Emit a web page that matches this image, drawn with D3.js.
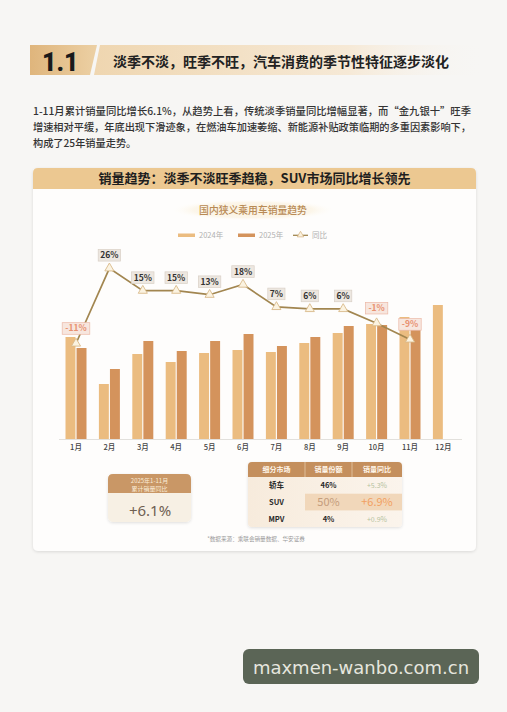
<!DOCTYPE html>
<html><head><meta charset="utf-8">
<script src="https://cdn.jsdelivr.net/npm/d3@7"></script>
<style>
html,body{margin:0;padding:0;background:#f7f6f4;}
svg{display:block;}
text{font-family:"Noto Sans CJK SC","Noto Sans",sans-serif;}
</style></head>
<body>
<script>
// ---- data ----
const months = ['1月','2月','3月','4月','5月','6月','7月','8月','9月','10月','11月','12月'];
const sales2024 = [204,110,170,154,172,178,174,192,212,230,244,268];
const sales2025 = [182,140,196,176,196,210,186,204,226,228,222,null];
const yoy = [-11,26,15,15,13,18,7,6,6,-1,-9];
const seriesNames = ['2024年','2025年'];
const segments = ['轿车','SUV','MPV'];
const segShares = ['46%','50%','4%'];
const segYoy = ['+5.3%','+6.9%','+0.9%'];
const tableHeads = ['细分市场','销量份额','销量同比'];
const paragraph = [
 '1-11月累计销量同比增长6.1%，从趋势上看，传统淡季销量同比增幅显著，而“金九银十”旺季',
 '增速相对平缓，年底出现下滑迹象，在燃油车加速萎缩、新能源补贴政策临期的多重因素影响下，',
 '构成了25年销量走势。'
];

const W=507,H=712;
const svg=d3.select('body').append('svg').attr('width',W).attr('height',H);
const defs=svg.append('defs');

svg.append('rect').attr('width',W).attr('height',H).attr('fill','#f7f6f4');

// gradients
const g1=defs.append('linearGradient').attr('id','hdrL').attr('x1','0').attr('x2','1');
g1.append('stop').attr('offset','0').attr('stop-color','#dfb57c');
g1.append('stop').attr('offset','1').attr('stop-color','#ecd0a4');
const g2=defs.append('linearGradient').attr('id','hdrR').attr('x1','0').attr('x2','1');
g2.append('stop').attr('offset','0').attr('stop-color','#efd6b0');
g2.append('stop').attr('offset','0.65').attr('stop-color','#f6e9d6');
g2.append('stop').attr('offset','1').attr('stop-color','#f7f6f4').attr('stop-opacity',0);
const g3=defs.append('radialGradient').attr('id','titleGlow');
g3.append('stop').attr('offset','0').attr('stop-color','#fbf1dc');
g3.append('stop').attr('offset','0.7').attr('stop-color','#fcf6ea');
g3.append('stop').attr('offset','1').attr('stop-color','#ffffff').attr('stop-opacity',0);
const g4=defs.append('linearGradient').attr('id','tblBody').attr('x1','0').attr('x2','1');
g4.append('stop').attr('offset','0').attr('stop-color','#f7ebdc');
g4.append('stop').attr('offset','1').attr('stop-color','#fbf4ec');
const sh=defs.append('filter').attr('id','shadow').attr('x','-10%').attr('y','-10%').attr('width','120%').attr('height','130%');
sh.append('feDropShadow').attr('dx',0).attr('dy',1).attr('stdDeviation',1.5).attr('flood-color','#000').attr('flood-opacity',0.12);

// ---- section header ----
svg.append('path').attr('d','M100,45 L485,45 L485,75 L94,75 Z').attr('fill','url(#hdrR)');
svg.append('path').attr('d','M30,45 L97,45 L90,75 L30,75 Z').attr('fill','url(#hdrL)');
svg.append('text').attr('x',42).attr('y',71).attr('font-size',25).attr('font-weight',900)
  .attr('fill','#1a1a1a').style('font-family','Roboto, "Noto Sans", sans-serif').text('1.1');
svg.append('text').attr('x',113).attr('y',67).attr('font-size',14).attr('font-weight',700)
  .attr('fill','#222').text('淡季不淡，旺季不旺，汽车消费的季节性特征逐步淡化');

// ---- paragraph ----
paragraph.forEach((t,i)=>{
  const tx=svg.append('text').attr('x',33).attr('y',115+i*16).attr('font-size',10.2)
    .attr('font-weight',500).attr('fill','#333').text(t);
  if(i<2) tx.attr('textLength',438).attr('lengthAdjust','spacingAndGlyphs');
});

// ---- card ----
svg.append('rect').attr('x',33).attr('y',168).attr('width',443).attr('height',383).attr('rx',5)
  .attr('fill','#fefdfc').attr('filter','url(#shadow)');
svg.append('path').attr('d','M33,189 L33,173 Q33,168 38,168 L471,168 Q476,168 476,173 L476,189 Z').attr('fill','#ecc891');
svg.append('text').attr('x',254.5).attr('y',183).attr('text-anchor','middle').attr('font-size',13)
  .attr('font-weight',700).attr('fill','#1e1e1e').text('销量趋势：淡季不淡旺季趋稳，SUV市场同比增长领先');

// chart title
svg.append('ellipse').attr('cx',253).attr('cy',210).attr('rx',85).attr('ry',11).attr('fill','url(#titleGlow)');
svg.append('text').attr('x',253).attr('y',213.5).attr('text-anchor','middle').attr('font-size',9.8)
  .attr('font-weight',500).attr('fill','#b88a55').text('国内狭义乘用车销量趋势');

// colors
const c2024='#ebbc80', c2025='#d4935c', lineC='#a28650';

// legend
const lg=svg.append('g').attr('font-size',7.5).attr('fill','#b0b0b0');
lg.append('rect').attr('x',178).attr('y',233.5).attr('width',17).attr('height',3.5).attr('fill',c2024);
lg.append('text').attr('x',199).attr('y',238).text(seriesNames[0]);
lg.append('rect').attr('x',238).attr('y',233.5).attr('width',17).attr('height',3.5).attr('fill',c2025);
lg.append('text').attr('x',259).attr('y',238).text(seriesNames[1]);
lg.append('line').attr('x1',293).attr('x2',308).attr('y1',235.3).attr('y2',235.3).attr('stroke',lineC).attr('stroke-width',1.3);
lg.append('path').attr('transform','translate(300.5,235)').attr('d',d3.symbol(d3.symbolTriangle,18)())
  .attr('fill','#fbf2df').attr('stroke','#d8b888').attr('stroke-width',0.8);
lg.append('text').attr('x',312).attr('y',238).text('同比');

// ---- scales ----
const x=d3.scaleBand().domain(months).range([59.3,460.1]);
const xi=d3.scaleBand().domain(['a','b']).range([x.bandwidth()/2-10.5,x.bandwidth()/2+10.5]).paddingInner(0.1);
const y=d3.scaleLinear().domain([0,378]).range([439,250]);
const yl=d3.scaleLinear().domain([-58,35]).range([439,250]);

// baseline axis
const ax=svg.append('g').attr('transform','translate(0,439)')
  .call(d3.axisBottom(x).tickSize(0).tickPadding(6));
ax.select('.domain').attr('stroke','#e2e0dc').attr('d','M59,0.5H462');
ax.selectAll('text').attr('font-size',7.5).attr('fill','#444').attr('font-weight',500)
  .style('font-family','"Noto Sans CJK SC",sans-serif');

// bars
const bars=svg.append('g');
bars.selectAll('.b24').data(months).enter().append('rect')
  .attr('x',d=>x(d)+xi('a')).attr('width',xi.bandwidth())
  .attr('y',(d,i)=>y(sales2024[i])).attr('height',(d,i)=>y(0)-y(sales2024[i]))
  .attr('fill',c2024);
bars.selectAll('.b25').data(months.filter((d,i)=>sales2025[i]!=null)).enter().append('rect')
  .attr('x',d=>x(d)+xi('b')).attr('width',xi.bandwidth())
  .attr('y',(d,i)=>y(sales2025[i])).attr('height',(d,i)=>y(0)-y(sales2025[i]))
  .attr('fill',c2025);

// line
const lineData=yoy.map((v,i)=>({m:months[i],v}));
const cx=d=>x(d.m)+x.bandwidth()/2;
svg.append('path').datum(lineData)
  .attr('d',d3.line().x(cx).y(d=>yl(d.v)))
  .attr('fill','none').attr('stroke',lineC).attr('stroke-width',1.7);
svg.selectAll('.tri').data(lineData).enter().append('path')
  .attr('transform',d=>`translate(${cx(d)},${yl(d.v)})`)
  .attr('d',d3.symbol(d3.symbolTriangle,36)())
  .attr('fill','#fbf3e1').attr('stroke','#d9ba8a').attr('stroke-width',0.9);

// labels
const lab=svg.selectAll('.lab').data(lineData).enter().append('g')
  .attr('transform',d=>`translate(${cx(d)},${yl(d.v)-(d.v<0?15:13)})`);
lab.append('rect').attr('x',d=>-(String(d.v).length*2.6+6)).attr('y',-5.8)
  .attr('width',d=>2*(String(d.v).length*2.6+6)).attr('height',11.6)
  .attr('fill',d=>d.v<0?'#f7e6de':'#ede7e0').attr('stroke',d=>d.v<0?'#ecb8a6':'#d9d0c6').attr('stroke-width',0.7);
lab.append('text').attr('text-anchor','middle').attr('y',3).attr('font-size',8.5).attr('font-weight',700)
  .attr('fill',d=>d.v<0?'#e8906f':'#333').text(d=>d.v+'%');

// ---- bottom left box ----
svg.append('rect').attr('x',108).attr('y',474).attr('width',83).attr('height',48).attr('rx',5)
  .attr('fill','#f7f0e4').attr('filter','url(#shadow)');
svg.append('path').attr('d','M108,493 L108,479 Q108,474 113,474 L186,474 Q191,474 191,479 L191,493 Z').attr('fill','#c99766');
svg.append('text').attr('x',149.5).attr('y',483).attr('text-anchor','middle').attr('font-size',6)
  .attr('fill','#fbecd8').text('2025年1-11月');
svg.append('text').attr('x',149.5).attr('y',490.5).attr('text-anchor','middle').attr('font-size',6)
  .attr('fill','#fbecd8').text('累计销量同比');
svg.append('text').attr('x',150).attr('y',516).attr('text-anchor','middle').attr('font-size',15)
  .attr('fill','#6f6052').style('font-family','"Noto Sans",sans-serif').text('+6.1%');

// ---- table ----
const tx0=248, colW=[57,47,50], rowH=16.7, hy=462, hh=15;
const colX=[tx0, tx0+colW[0], tx0+colW[0]+colW[1]];
const tg=svg.append('g');
tg.append('rect').attr('x',tx0).attr('y',hy).attr('width',154).attr('height',hh+rowH*3).attr('rx',4)
  .attr('fill','url(#tblBody)').attr('filter','url(#shadow)');
tg.append('path').attr('d',`M${tx0},${hy+hh} L${tx0},${hy+4} Q${tx0},${hy} ${tx0+4},${hy} L${tx0+150},${hy} Q${tx0+154},${hy} ${tx0+154},${hy+4} L${tx0+154},${hy+hh} Z`)
  .attr('fill','#c48f5d');
tg.append('rect').attr('x',colX[1]).attr('y',hy+hh+rowH).attr('width',colW[1]+colW[2]).attr('height',rowH).attr('fill','#f1d7ba');
[colX[1],colX[2]].forEach(xx=>tg.append('line').attr('x1',xx).attr('x2',xx).attr('y1',hy).attr('y2',hy+hh).attr('stroke','#e6c9a8').attr('stroke-width',0.8));
tableHeads.forEach((t,i)=>tg.append('text').attr('x',colX[i]+colW[i]/2).attr('y',hy+10).attr('text-anchor','middle')
  .attr('font-size',7).attr('font-weight',600).attr('fill','#fff6ea').text(t));
segments.forEach((s,i)=>{
  const yy=hy+hh+rowH*i+rowH/2;
  const big=(s==='SUV');
  tg.append('text').attr('x',colX[0]+colW[0]/2).attr('y',yy+3).attr('text-anchor','middle')
    .attr('font-size',7.5).attr('font-weight',600).attr('fill','#2a2a2a').text(s);
  tg.append('text').attr('x',colX[1]+colW[1]/2).attr('y',yy+(big?4:3)).attr('text-anchor','middle')
    .attr('font-size',big?11:7.5).attr('font-weight',big?400:600).attr('fill',big?'#c49d7c':'#2a2a2a').text(segShares[i]);
  tg.append('text').attr('x',colX[2]+colW[2]/2).attr('y',yy+(big?4:3)).attr('text-anchor','middle')
    .attr('font-size',big?11:7).attr('fill',big?'#f2a061':'#b6c29f').text(segYoy[i]);
});

// footnote
svg.append('text').attr('x',256).attr('y',541).attr('text-anchor','middle').attr('font-size',5.6)
  .attr('fill','#9a9a9a').text('*数据来源：乘联会销量数据、华安证券');

// ---- watermark ----
svg.append('rect').attr('x',243).attr('y',649).attr('width',236).attr('height',35).attr('rx',6).attr('fill','#5b6556');
svg.append('text').attr('x',361).attr('y',673.5).attr('text-anchor','middle').attr('font-size',18)
  .attr('fill','#e6e6de').style('font-family','"DejaVu Sans",sans-serif').text('maxmen-wanbo.com.cn');
</script>
</body></html>
